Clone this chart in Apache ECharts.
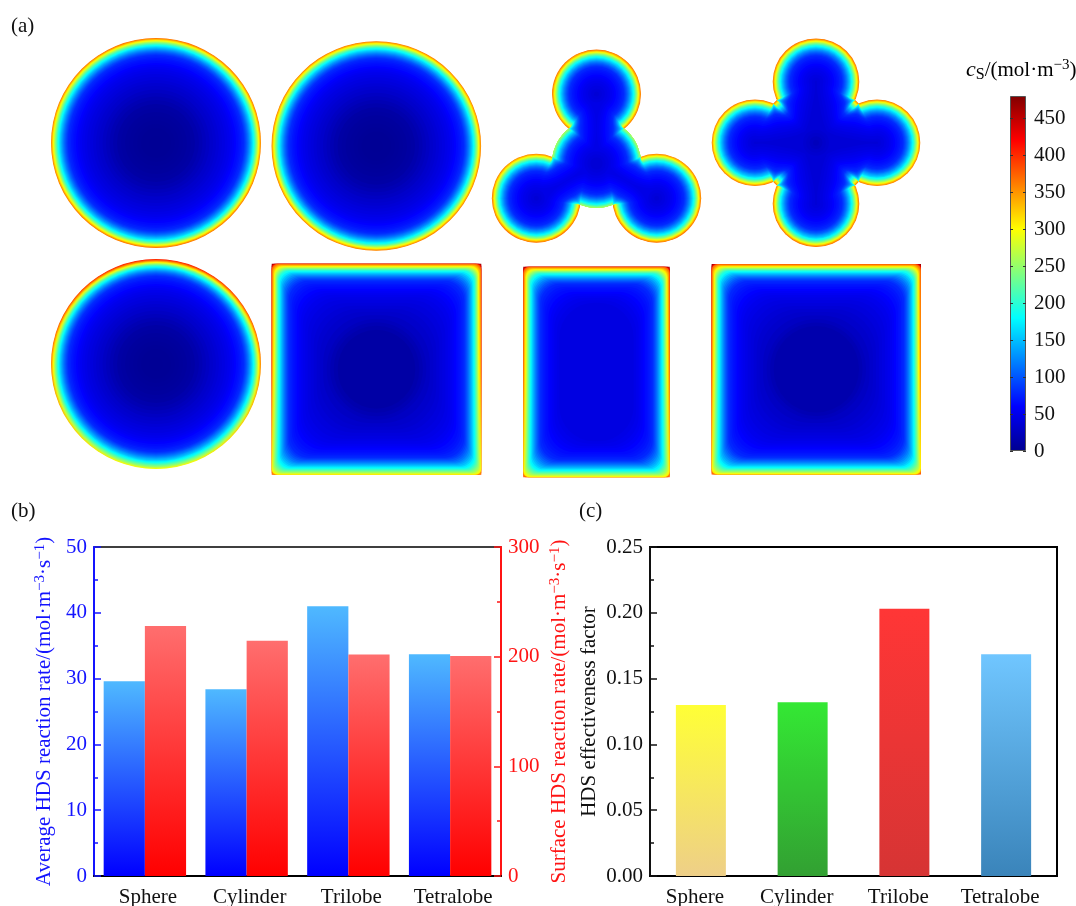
<!DOCTYPE html>
<html><head><meta charset="utf-8">
<style>html,body{margin:0;padding:0;background:#fff}#c{width:1076px;height:906px}</style>
<script src="https://cdn.jsdelivr.net/npm/echarts@6/dist/echarts.min.js"></script>
</head><body><div id="c"></div>
<script>
// ---- bar panels ----
const categories = ['Sphere', 'Cylinder', 'Trilobe', 'Tetralobe'];
const averageRate = [29.6, 28.4, 41.0, 33.7];
const surfaceRate = [228, 214.5, 202, 200.5];
const effectiveness = [0.130, 0.132, 0.203, 0.1685];
const effTop = ['#ffff36', '#34e834', '#ff3636', '#70c6ff'];
const effBottom = ['#eecf88', '#32a032', '#d63434', '#3a84ba'];

// ---- colour scale (value, colour) ----
const jetValues = [0, 60, 180, 300, 420, 480];
const jetRGB = [[0,0,143],[0,0,255],[0,255,255],[255,255,0],[255,0,0],[128,0,0]];
const colorbarTicks = [0, 50, 100, 150, 200, 250, 300, 350, 400, 450];

// ---- concentration against depth below the pellet surface ----
const bandDepth = [0,.5,1,1.5,2,2.5,3,3.5,4,4.5,5,5.5,6,6.5,7,8,9,10,11,12,13,14,15,16,17,18.5,20,21.5,23,25,27,29,31,33.5,36,39,42,45,48,51.5,55,58.5,62,66,70,74,78,82,86,90,94,98,102];
const bandValue = [355,342,328,314,300,287,274,261,249,237,226,215,204,194,184,167,153,141,129,118,108,99,91,84,78,74,70,67,64,60,56,53,50,47,44,41,38,35,32,28,24,20,16,12,10,8,7,6,5,4,4,3,3];
const cornerValue = [445, 420, 395];
const cornerRadius = [0, 2.5, 5];

// ---- pellet cross-sections in panel (a), in picture units ----
const pelletKind = ['disc','disc','lobes','lobes','disc','box','box','box'];
const pelletX    = [156, 376.3, 596.5, 816, 156, 376.5, 596.5, 816.3];
const pelletY    = [143, 146, 163.5, 142.7, 364, 369.2, 372, 369.2];
const pelletHalfW = [105, 104.8, 0, 0, 105, 104.8, 73.2, 104.7];
const pelletHalfH = [105, 104.8, 0, 0, 105, 105.5, 105.3, 105.2];
const lobeR      = [0, 0, 44.5, 43.3, 0, 0, 0, 0];
const lobeDist   = [0, 0, 69.5, 61, 0, 0, 0, 0];
const lobeAngles = [[], [], [-90, 30, 150], [-90, 0, 90, 180], [], [], [], []];
const coreR      = [0, 0, 44.5, 58, 0, 0, 0, 0];
const coreEdgeValue = [480, 480, 255, 480, 480, 480, 480, 480];
const coreEdgeDepth = [0, 0, 3.7, 0, 0, 0, 0, 0];
const notchLag   = 6;
const valueFloor = [0, 0, 38, 16, 0, 12, 44, 16];
const edgeTop    = [1.03, 1.01, 1.03, 1.03, 1.14, 1.06, 1.06, 1.06];
const edgeBottom = [1.03, 1.01, 1.05, 1.03, 0.84, 0.85, 0.87, 0.87];

function jet(v) {
  v = Math.max(0, Math.min(480, v));
  let i = 0;
  while (i < jetValues.length - 2 && v > jetValues[i + 1]) i++;
  const t = (v - jetValues[i]) / (jetValues[i + 1] - jetValues[i]);
  const c = jetRGB[i].map((a, k) => Math.round(a + (jetRGB[i + 1][k] - a) * t));
  return 'rgb(' + c.join(',') + ')';
}

const bandRows = [];
pelletKind.forEach((kind, p) => {
  if (kind === 'box') cornerValue.forEach((v, i) => bandRows.push([p, 0, v, cornerRadius[i]]));
  bandDepth.forEach((d, i) => {
    const r = kind === 'box' ? 6 + d * 0.8 : 0;
    bandRows.push([p, d, Math.max(bandValue[i], valueFloor[p]), r]);
  });
});

function bandPaint(p, v, cy, ext) {
  const k = Math.max(0, Math.min(1, (v - 100) / 200));
  const a = 1 + (edgeTop[p] - 1) * k, b = 1 + (edgeBottom[p] - 1) * k;
  return {
    type: 'linear', global: true, x: 0, y: cy - ext, x2: 0, y2: cy + ext,
    colorStops: [
      { offset: 0, color: jet(v * a) },
      { offset: 0.5, color: jet(v) },
      { offset: 1, color: jet(v * b) }
    ]
  };
}

// Contour through the waist between a lobe and the core. Values fall faster at
// the concave notches, so contours pass closer to a notch than to a flat edge.
function waistPoints(c, ang, L, R, C, d) {
  const s = (C * C - R * R + L * L) / (2 * L), h = Math.sqrt(C * C - s * s);
  const near = Math.max(0.3, d - notchLag);
  if (d <= 0 || d >= R || near >= h) return null;
  const aL = Math.atan2(-h, L - s);
  let aC = Math.atan2(-h, -s);
  if (aC > aL) aC -= 2 * Math.PI;
  const steps = 14, up = [];
  for (let i = 0; i <= steps; i++) {
    const f = i / steps, a = aL + (aC - aL) * f;
    const rho = d - (d - near) * Math.sin(Math.PI * f);
    up.push([s + rho * Math.cos(a), h + rho * Math.sin(a)]);
  }
  const low = up.slice().reverse().map(q => [q[0], -q[1]]);
  const t = ang * Math.PI / 180, ct = Math.cos(t), st = Math.sin(t);
  return up.concat(low).map(q => [c[0] + q[0] * ct - q[1] * st, c[1] + q[0] * st + q[1] * ct]);
}

function renderBand(params, api) {
  const p = api.value(0), d = api.value(1), v = api.value(2), cr = api.value(3);
  const c = api.coord([pelletX[p], pelletY[p]]);
  const kind = pelletKind[p];
  const kids = [];
  if (kind === 'disc') {
    const r = pelletHalfW[p] - d;
    if (r > 0) kids.push({ type: 'circle', shape: { cx: c[0], cy: c[1], r }, style: { fill: bandPaint(p, v, c[1], pelletHalfW[p]) } });
  } else if (kind === 'box') {
    const hw = pelletHalfW[p] - d, hh = pelletHalfH[p] - d;
    if (hw > 0 && hh > 0) kids.push({
      type: 'rect',
      shape: { x: c[0] - hw, y: c[1] - hh, width: 2 * hw, height: 2 * hh, r: Math.min(cr, hw, hh) },
      style: { fill: bandPaint(p, v, c[1], pelletHalfH[p]) }
    });
  } else {
    const ext = lobeDist[p] + lobeR[p];
    const paint = bandPaint(p, v, c[1], ext);
    const rc = coreR[p] - Math.max(0, d - coreEdgeDepth[p]);
    if (rc > 0) kids.push({ type: 'circle', shape: { cx: c[0], cy: c[1], r: rc }, style: { fill: bandPaint(p, Math.min(v, coreEdgeValue[p]), c[1], ext) } });
    lobeAngles[p].forEach(ang => {
      const t = ang * Math.PI / 180;
      const r = lobeR[p] - d;
      if (r > 0) kids.push({ type: 'circle', shape: { cx: c[0] + lobeDist[p] * Math.cos(t), cy: c[1] + lobeDist[p] * Math.sin(t), r }, style: { fill: paint } });
      const pts = waistPoints(c, ang, lobeDist[p], lobeR[p], coreR[p], d);
      if (pts) kids.push({ type: 'polygon', shape: { points: pts }, style: { fill: jet(v) } });
    });
  }
  return { type: 'group', children: kids };
}

const SERIF = '"Liberation Serif","Times New Roman",serif';
const nameRich = col => ({
  n: { fontFamily: SERIF, fontSize: 21, color: col },
  s: { fontFamily: SERIF, fontSize: 15, color: col, verticalAlign: 'top', padding: [0, 0, 8, 0] }
});
const unitName = t => '{n|' + t + '/(mol·m}{s|−3}{n|·s}{s|−1}{n|)}';
const gradient = (top, bottom) => ({
  type: 'linear', x: 0, y: 0, x2: 0, y2: 1,
  colorStops: [{ offset: 0, color: top }, { offset: 1, color: bottom }]
});
const valueAxis = (grid, pos, min, max, interval, col, extra) => Object.assign({
  type: 'value', gridIndex: grid, position: pos, min, max, interval,
  axisLine: { show: true, onZero: false, lineStyle: { color: col, width: 2 } },
  axisTick: { show: true, inside: true, length: 7, lineStyle: { color: col, width: 1.5 } },
  minorTick: { show: true, splitNumber: 2, length: 4, lineStyle: { color: col, width: 1.5 } },
  axisLabel: { fontFamily: SERIF, fontSize: 21, color: col, margin: 7 },
  splitLine: { show: false }
}, extra);
const catAxis = (grid, pad) => ({
  type: 'category', gridIndex: grid, data: categories,
  axisLine: { lineStyle: { color: '#000', width: 2 } },
  axisTick: { show: false },
  axisLabel: { fontFamily: SERIF, fontSize: 21, color: '#111', margin: 11, interval: 0, padding: pad }
});

const option = {
  animation: false,
  backgroundColor: '#fff',
  grid: [
    { left: 0, top: 0, width: 1076, height: 906, outerBoundsMode: 'none' },
    { left: 94, top: 547, width: 407, height: 329, show: true, borderColor: '#000', borderWidth: 1.5, backgroundColor: 'transparent', outerBoundsMode: 'none' },
    { left: 650, top: 547, width: 407, height: 329, show: true, borderColor: '#000', borderWidth: 2, backgroundColor: 'transparent', outerBoundsMode: 'none' },
    { left: 1010, top: 96, width: 16, height: 355, outerBoundsMode: 'none' }
  ],
  xAxis: [
    { type: 'value', gridIndex: 0, min: 0, max: 1076, show: false },
    catAxis(1, [0, 0, 0, 6]),
    catAxis(2, [0, 12, 0, 0]),
    { type: 'category', gridIndex: 3, data: ['cs'], show: false }
  ],
  yAxis: [
    { type: 'value', gridIndex: 0, min: 0, max: 906, inverse: true, show: false },
    valueAxis(1, 'left', 0, 50, 10, '#1414ff', {
      name: unitName('Average HDS reaction rate'), nameLocation: 'middle', nameGap: 38, nameRotate: 90,
      nameTextStyle: { rich: nameRich('#1414ff') }
    }),
    valueAxis(1, 'right', 0, 300, 100, '#ff1414', {
      name: unitName('Surface HDS reaction rate'), nameLocation: 'middle', nameGap: 47, nameRotate: 90,
      nameTextStyle: { rich: nameRich('#ff1414') }
    }),
    valueAxis(2, 'left', 0, 0.25, 0.05, '#111', {
      axisLabel: { fontFamily: SERIF, fontSize: 21, color: '#111', margin: 7, formatter: v => v.toFixed(2) },
      name: 'HDS effectiveness factor', nameLocation: 'middle', nameGap: 50, nameRotate: 90,
      nameTextStyle: { fontFamily: SERIF, fontSize: 21, color: '#111' }
    }),
    {
      type: 'value', gridIndex: 3, position: 'right', min: 0, max: 480, interval: 50, z: 6,
      axisLine: { show: false },
      axisTick: { show: true, inside: true, length: 3, customValues: colorbarTicks, lineStyle: { color: '#333', width: 1 } },
      axisLabel: { fontFamily: SERIF, fontSize: 21, color: '#111', margin: 8, customValues: colorbarTicks },
      splitLine: { show: false }
    },
    {
      type: 'value', gridIndex: 3, position: 'left', min: 0, max: 480, interval: 50, z: 6,
      axisLine: { show: false },
      axisTick: { show: true, inside: true, length: 3, customValues: colorbarTicks, lineStyle: { color: '#333', width: 1 } },
      axisLabel: { show: false },
      splitLine: { show: false }
    }
  ],
  series: [
    { type: 'custom', xAxisIndex: 0, yAxisIndex: 0, data: bandRows, renderItem: renderBand, clip: false, silent: true, dimensions: ['p', 'd', 'v', 'r'], encode: { x: 1, y: 2 } },
    { type: 'bar', xAxisIndex: 1, yAxisIndex: 1, data: averageRate, barGap: '0%', barCategoryGap: '19%', itemStyle: { color: gradient('#4fb9ff', '#0000ff') } },
    { type: 'bar', xAxisIndex: 1, yAxisIndex: 2, data: surfaceRate, barGap: '0%', barCategoryGap: '19%', itemStyle: { color: gradient('#ff6e6e', '#ff0000') } },
    {
      type: 'bar', xAxisIndex: 2, yAxisIndex: 3, barWidth: 50,
      data: effectiveness.map((v, i) => ({ value: v, itemStyle: { color: gradient(effTop[i], effBottom[i]) } }))
    },
    {
      type: 'bar', xAxisIndex: 3, yAxisIndex: 4, barWidth: '100%', data: [480],
      itemStyle: {
        borderColor: '#555', borderWidth: 1,
        color: { type: 'linear', x: 0, y: 1, x2: 0, y2: 0, colorStops: jetValues.map((v, i) => ({ offset: v / 480, color: jet(v) })) }
      }
    }
  ],
  graphic: [
    { type: 'text', left: 11, top: 16, style: { text: '(a)', font: '21px ' + SERIF, fill: '#111' } },
    { type: 'text', left: 11, top: 501, style: { text: '(b)', font: '21px ' + SERIF, fill: '#111' } },
    { type: 'text', left: 579, top: 501, style: { text: '(c)', font: '21px ' + SERIF, fill: '#111' } },
    {
      type: 'text', left: 966, top: 58,
      style: {
        text: '{i|c}{b|S}{n|/(mol·m}{p|−3}{n|)}',
        rich: {
          i: { fontFamily: SERIF, fontStyle: 'italic', fontSize: 22, color: '#111' },
          b: { fontFamily: SERIF, fontSize: 16, color: '#111', verticalAlign: 'bottom', padding: [9, 0, 0, 0] },
          n: { fontFamily: SERIF, fontSize: 21, color: '#111' },
          p: { fontFamily: SERIF, fontSize: 15, color: '#111', verticalAlign: 'top', padding: [0, 0, 8, 0] }
        }
      }
    }
  ]
};
echarts.init(document.getElementById('c'), null, { renderer: 'canvas' }).setOption(option);
</script></body></html>
